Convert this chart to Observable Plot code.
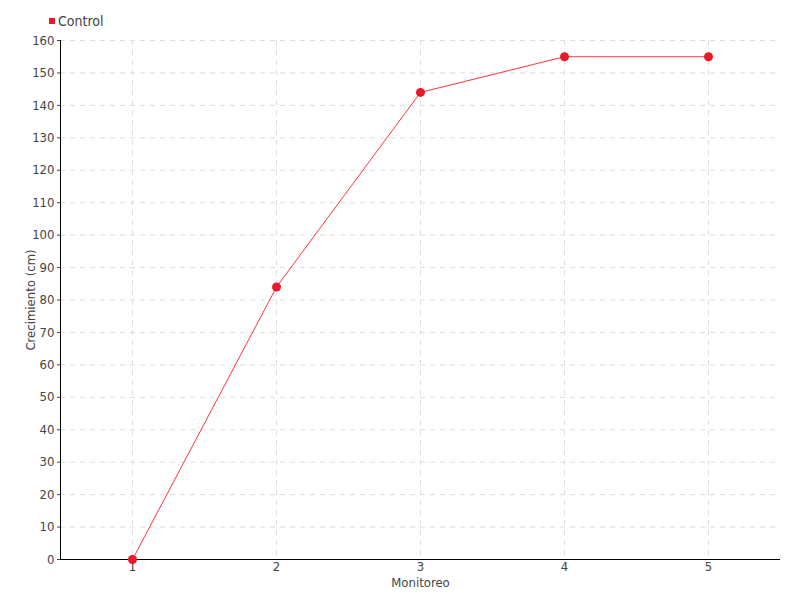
<!DOCTYPE html>
<html>
<head>
<meta charset="utf-8">
<script src="https://cdn.jsdelivr.net/npm/d3@7"></script>
<script src="https://cdn.jsdelivr.net/npm/@observablehq/plot@0.6"></script>
<style>
  html, body { margin: 0; padding: 0; background: #fff; }
  #wrap { position: relative; width: 800px; height: 600px; font-family: "DejaVu Sans Condensed", "Liberation Sans Narrow", sans-serif; }
  #legend { position: absolute; left: 49px; top: 13px; font-size: 14px; color: #444; display: flex; align-items: center; gap: 3px; }
  #legend span.sw { display: inline-block; width: 6px; height: 6px; background: #e8192c; }
</style>
</head>
<body>
<div id="wrap">
  <div id="legend"><span class="sw"></span><span>Control</span></div>
  <div id="chart"></div>
</div>
<script>
const categories = [1, 2, 3, 4, 5];
const control = [0, 84, 144, 155, 155];
const yTicks = d3.range(0, 161, 10);
const seriesName = "Control";

const data = categories.map((c, i) => ({ monitoreo: c, valor: control[i], serie: seriesName }));

const chart = Plot.plot({
  width: 800,
  height: 600,
  marginTop: 40,
  marginBottom: 41,
  marginLeft: 60,
  marginRight: 20,
  style: { fontFamily: "'DejaVu Sans Condensed', 'Liberation Sans Narrow', sans-serif", fontSize: "13px", color: "#444", background: "#fff" },
  x: { type: "band", domain: categories, padding: 0, label: null },
  y: { domain: [0, 160], label: null },
  marks: [
    Plot.gridY(yTicks, { stroke: "#ddd", strokeOpacity: 1, strokeDasharray: "5,5" }),
    Plot.gridX(categories, { stroke: "#ddd", strokeOpacity: 1, strokeDasharray: "5,5" }),
    Plot.axisY(yTicks, { tickSize: 3, tickPadding: 3, fill: "#444", fontSize: 13, label: null }),
    Plot.axisX(categories, { tickSize: 0, tickPadding: 2, fill: "#444", fontSize: 13, label: null }),
    Plot.ruleY([0], { stroke: "#000" }),
    Plot.frame({ anchor: "left", stroke: "#000" }),
    Plot.line(data, { x: "monitoreo", y: "valor", stroke: "#ff3347", strokeWidth: 1 }),
    Plot.dot(data, { x: "monitoreo", y: "valor", r: 4.5, fill: "#e8192c", stroke: "none" }),
    Plot.text(["Monitoreo"], { frameAnchor: "bottom", dy: 27, fill: "#444", fontSize: 13 }),
    Plot.text(["Crecimiento (cm)"], { frameAnchor: "left", dx: -30, rotate: -90, textAnchor: "middle", fill: "#444", fontSize: 13 })
  ]
});
document.getElementById("chart").appendChild(chart);
</script>
</body>
</html>
